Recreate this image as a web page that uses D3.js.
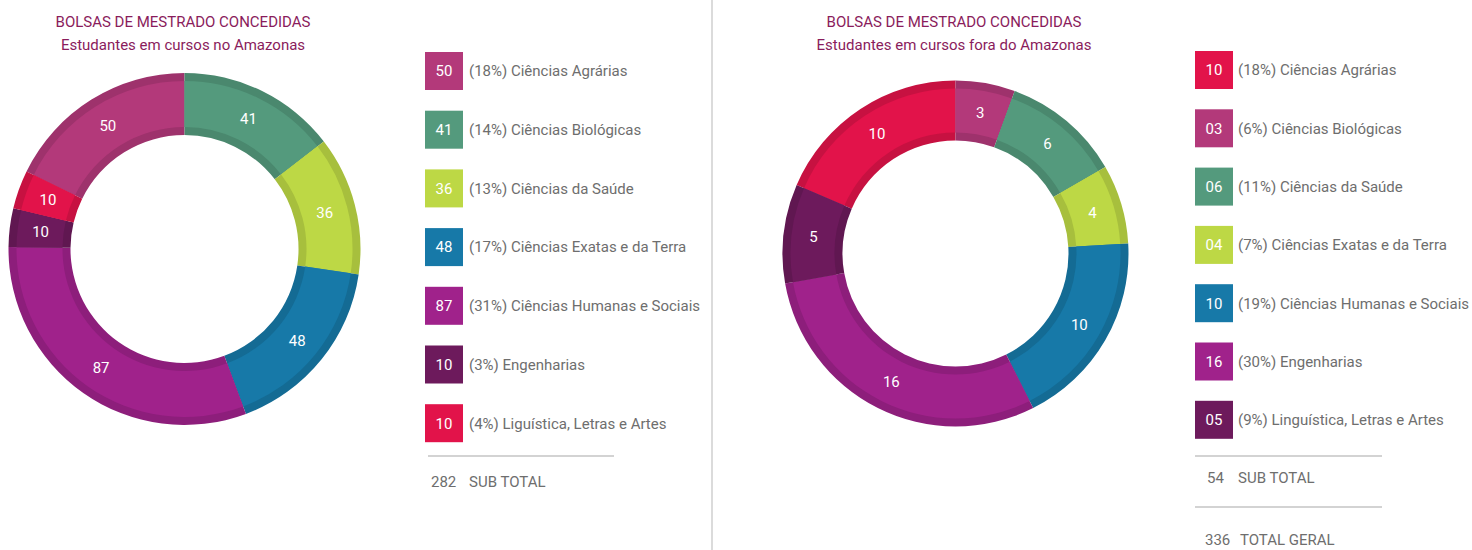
<!DOCTYPE html>
<html><head><meta charset="utf-8">
<script src="https://cdn.jsdelivr.net/npm/d3@7/dist/d3.min.js"></script>
<style>
body{margin:0;background:#fff}
svg{display:block}
text{font-family:Roboto,"Noto Sans",sans-serif}
</style>
</head><body>
<svg id="chart" width="1472" height="550"></svg>
<script>
// ---------- DATA ----------
const titleMain = "BOLSAS DE MESTRADO CONCEDIDAS";
const subtitleAM = "Estudantes em cursos no Amazonas";
const subtitleFora = "Estudantes em cursos fora do Amazonas";

const categoriesAM = ["Ciências Agrárias","Ciências Biológicas","Ciências da Saúde","Ciências Exatas e da Terra","Ciências Humanas e Sociais","Engenharias","Liguística, Letras e Artes"];
const valuesAM = [50, 41, 36, 48, 87, 10, 10];
const pctAM = ["18%","14%","13%","17%","31%","3%","4%"];
const colorsAM = ["#b3397a","#549a7d","#bdd845","#1779a8","#a0228b","#6d1a5c","#e2134a"];

const categoriesFora = ["Ciências Agrárias","Ciências Biológicas","Ciências da Saúde","Ciências Exatas e da Terra","Ciências Humanas e Sociais","Engenharias","Linguística, Letras e Artes"];
const valuesFora = [10, 3, 6, 4, 10, 16, 5];
const pctFora = ["18%","6%","11%","7%","19%","30%","9%"];
const colorsFora = ["#e2134a","#b3397a","#549a7d","#bdd845","#1779a8","#a0228b","#6d1a5c"];

const subTotalLabel = "SUB TOTAL";
const totalLabel = "TOTAL  GERAL";

// ---------- DRAW ----------
const svg = d3.select("#chart");
const fmt2 = d3.format("02d");
const titleColor = "#8a1c5c";
const textGray = "#6e6e6e";
const ruleGray = "#c4c4c4";
const fs = 15;

// divider
svg.append("line").attr("x1",712).attr("x2",712).attr("y1",0).attr("y2",550)
  .attr("stroke","#cfcfcf").attr("stroke-width",1.5);

function drawPanel(cfg){
  const g = svg.append("g");
  // titles
  g.append("text").attr("x",cfg.titleX).attr("y",26.5).attr("text-anchor","middle")
    .attr("font-size",fs).attr("fill",titleColor).text(titleMain);
  g.append("text").attr("x",cfg.titleX).attr("y",49.5).attr("text-anchor","middle")
    .attr("font-size",fs).attr("fill",titleColor).text(cfg.subtitle);

  // donut
  const total = d3.sum(cfg.values);
  const off = cfg.values[0] / total * 2 * Math.PI;
  const pie = d3.pie().sort(null).value(d => d)
    .startAngle(-off).endAngle(2*Math.PI - off);
  const arcs = pie(cfg.values);
  const band = 8;
  const full = d3.arc().innerRadius(cfg.r0).outerRadius(cfg.r1);
  const mid = d3.arc().innerRadius(cfg.r0 + band).outerRadius(cfg.r1 - band);
  const lab = d3.arc().innerRadius((cfg.r0+cfg.r1)/2).outerRadius((cfg.r0+cfg.r1)/2);
  const dg = g.append("g").attr("transform",`translate(${cfg.cx},${cfg.cy})`);
  const sl = dg.selectAll("g.slice").data(arcs).join("g").attr("class","slice");
  sl.append("path").attr("d",full).attr("fill",(d,i)=>d3.color(cfg.colors[i]).darker(0.35));
  sl.append("path").attr("d",mid).attr("fill",(d,i)=>cfg.colors[i]);
  sl.append("text").attr("transform",d=>`translate(${lab.centroid(d)})`)
    .attr("text-anchor","middle").attr("dy","0.36em")
    .attr("font-size",fs).attr("fill","#fff").text(d=>d.value);

  // legend
  const y = d3.scaleLinear().domain([0,1]).range([cfg.legY0, cfg.legY0 + cfg.legStep]);
  const lg = g.append("g");
  const rows = lg.selectAll("g.row").data(cfg.values).join("g").attr("class","row")
    .attr("transform",(d,i)=>`translate(${cfg.legX},${y(i)})`);
  rows.append("rect").attr("width",38).attr("height",38).attr("fill",(d,i)=>cfg.colors[i]);
  rows.append("text").attr("x",19).attr("y",19).attr("dy","0.36em").attr("text-anchor","middle")
    .attr("font-size",fs).attr("fill","#fff").text(d=>fmt2(d));
  rows.append("text").attr("x",cfg.labX).attr("y",19).attr("dy","0.36em")
    .attr("font-size",fs).attr("fill",textGray)
    .text((d,i)=>`(${cfg.pct[i]}) ${cfg.categories[i]}`);

  return total;
}

const totAM = drawPanel({
  titleX:183, subtitle:subtitleAM, values:valuesAM, colors:colorsAM, pct:pctAM, categories:categoriesAM,
  cx:184.5, cy:249, r0:114, r1:176,
  legX:425, legY0:52, legStep:58.7, labX:44
});
const totFora = drawPanel({
  titleX:954, subtitle:subtitleFora, values:valuesFora, colors:colorsFora, pct:pctFora, categories:categoriesFora,
  cx:955.5, cy:253.5, r0:113, r1:173,
  legX:1195, legY0:51, legStep:58.3, labX:43
});

// subtotal / totals
function rule(x1,x2,yy){
  svg.append("line").attr("x1",x1).attr("x2",x2).attr("y1",yy).attr("y2",yy)
    .attr("stroke",ruleGray).attr("stroke-width",1.5);
}
function totRow(xNum,xLab,yy,num,label){
  svg.append("text").attr("x",xNum).attr("y",yy).attr("dy","0.36em").attr("font-size",fs)
    .attr("fill",textGray).text(num);
  svg.append("text").attr("x",xLab).attr("y",yy).attr("dy","0.36em").attr("font-size",fs)
    .attr("fill",textGray).text(label);
}
rule(428,614,456);
totRow(431,469,482,totAM,subTotalLabel);
rule(1195,1382,456);
totRow(1207,1238,478,totFora,subTotalLabel);
rule(1195,1382,507);
totRow(1205,1240,540,totAM+totFora,totalLabel);
</script>
</body></html>
